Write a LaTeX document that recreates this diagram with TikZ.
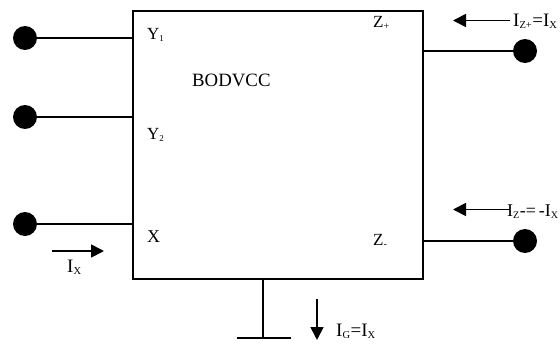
\documentclass[tikz,border=0pt]{standalone}
\usepackage{fontspec}
\setmainfont{Liberation Serif}
\usetikzlibrary{arrows.meta}
\newcommand{\fs}[1]{\fontsize{#1}{#1}\selectfont}
\begin{document}
\begin{tikzpicture}[x=1pt,y=-1pt,
  dot/.style={circle,fill=black,minimum size=24pt,inner sep=0pt},
  wire/.style={line width=1.8pt},
  cur/.style={-{Triangle[length=13pt,width=13pt]}, line width=1.8pt},
  lbl/.style={inner sep=0pt, anchor=base west}]
\useasboundingbox (0,0) rectangle (560,343);
\node[draw, line width=1.8pt, minimum width=290pt, minimum height=268pt, inner sep=0pt, anchor=north west] (box) at (132,10) {};
% terminals
\node[dot] (d1) at (25,38) {};
\node[dot] (d2) at (25,117) {};
\node[dot] (d3) at (25,224) {};
\node[dot] (d4) at (525,51) {};
\node[dot] (d5) at (525,241) {};
\draw[wire] (d1) -- (d1 -| box.west);
\draw[wire] (d2) -- (d2 -| box.west);
\draw[wire] (d3) -- (d3 -| box.west);
\draw[wire] (d4) -- (d4 -| box.east);
\draw[wire] (d5) -- (d5 -| box.east);
% ground
\coordinate (g) at (263,338);
\coordinate (gl) at (237,338);
\coordinate (gr) at (291,338);
\draw[wire] (g |- box.south) -- (g);
\draw[wire] (gl) -- (gr);
% labels inside
\node[lbl] (y1) at (147,39) {\fs{17}Y\textsubscript{\fs{9}1}};
\node[lbl] (y2) at (147,139) {\fs{17}Y\textsubscript{\fs{9}2}};
\node[lbl] (xl) at (147,242) {\fs{18}X};
\node[lbl] (zp) at (373,27) {\fs{17}Z\textsubscript{\fs{10}+}};
\node[lbl] (zm) at (373,245) {\fs{17}Z\textsubscript{\fs{10}-}};
\node[lbl] (bod) at (192,86) {\fs{18.8}BODVCC};
% currents
\coordinate (a1s) at (510,20.5);
\coordinate (a1e) at (453,20.5);
\draw[cur] (a1s) -- (a1e);
\node[lbl] (i1) at (513,26) {\fs{19}I\textsubscript{\fs{10.5}Z+}=I\textsubscript{\fs{10.5}X}};
\coordinate (a2s) at (510,209.5);
\coordinate (a2e) at (453,209.5);
\draw[cur] (a2s) -- (a2e);
\node[lbl] (i2) at (507,216) {\fs{18}I\textsubscript{\fs{10}Z}-=\kern3pt-I\textsubscript{\fs{10}X}};
\coordinate (a3s) at (317,299);
\coordinate (a3e) at (317,340);
\draw[cur] (a3s) -- (a3e);
\node[lbl] (i3) at (336,336) {\fs{19}I\textsubscript{\fs{10.5}G}=I\textsubscript{\fs{10.5}X}};
\coordinate (a4s) at (52,251);
\coordinate (a4e) at (104,251);
\draw[cur] (a4s) -- (a4e);
\node[lbl] (i4) at (67,272) {\fs{19}I\textsubscript{\fs{10.5}X}};
\end{tikzpicture}
\end{document}
